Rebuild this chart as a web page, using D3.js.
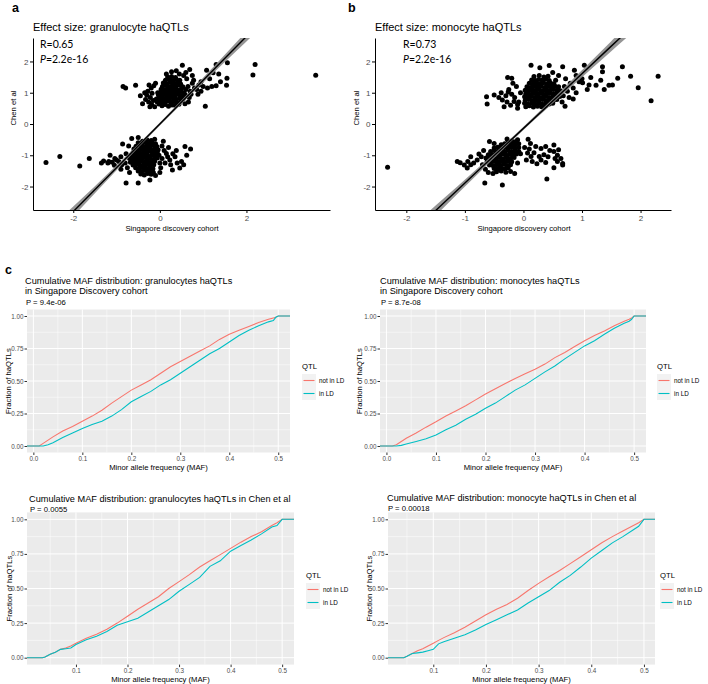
<!DOCTYPE html>
<html lang="en">
<head>
<meta charset="UTF-8">
<title>haQTL effect sizes and MAF distributions</title>
<script src="https://d3js.org/d3.v7.min.js"></script>
<style>
  body { margin: 0; background: #fff; }
  svg { display: block; font-family: "Liberation Sans", Arial, sans-serif; }
</style>
</head>
<body>
<div id="chart"></div>
<script>
// ---------- panel a: granulocyte effect sizes (Singapore x, Chen y) ----------
const granuPoints = [
  // upper cluster core
  [0.05,0.58],[0.12,0.62],[0.2,0.57],[0.28,0.61],[0.36,0.59],[0.44,0.63],[-0.02,0.64],
  [0.02,0.71],[0.09,0.69],[0.17,0.73],[0.25,0.7],[0.33,0.72],[0.41,0.68],[0.49,0.74],[-0.06,0.7],
  [0.0,0.82],[0.07,0.79],[0.14,0.83],[0.22,0.8],[0.3,0.84],[0.38,0.79],[0.46,0.82],[0.54,0.81],[-0.08,0.8],
  [-0.03,0.92],[0.05,0.9],[0.12,0.94],[0.19,0.89],[0.27,0.93],[0.35,0.9],[0.43,0.94],[0.51,0.91],[0.59,0.93],
  [0.01,1.01],[0.09,0.99],[0.16,1.03],[0.24,0.98],[0.32,1.02],[0.4,1.0],[0.48,1.04],[0.56,1.0],[-0.05,1.0],
  [0.03,1.11],[0.11,1.09],[0.18,1.13],[0.26,1.1],[0.34,1.12],[0.42,1.08],[0.5,1.13],[0.6,1.1],
  [0.06,1.2],[0.14,1.23],[0.21,1.19],[0.29,1.22],[0.37,1.2],[0.45,1.24],[0.53,1.19],
  [0.08,1.31],[0.16,1.29],[0.24,1.33],[0.32,1.3],[0.4,1.32],[0.48,1.28],
  [0.13,1.4],[0.22,1.42],[0.3,1.39],[0.38,1.43],[0.46,1.4],
  [0.18,1.5],[0.27,1.52],[0.36,1.49],
  // upper cluster fringe
  [-0.25,1.25],[-0.2,1.15],[-0.28,1.05],[-0.18,0.98],[-0.3,0.92],[-0.22,0.85],[-0.15,0.75],[-0.26,0.7],
  [-0.19,0.62],[-0.12,0.55],[-0.33,0.78],[-0.14,1.22],[-0.1,1.3],[-0.35,1.0],[-0.23,0.55],
  [-0.85,1.2],[-0.79,1.15],[-0.56,1.24],[-0.45,0.9],[-0.4,0.65],
  [0.65,1.2],[0.7,1.05],[0.75,1.3],[0.8,1.15],[0.68,0.85],[0.72,0.95],[0.85,1.1],[0.9,1.25],[0.95,1.05],
  [1.0,1.2],[0.78,1.4],[0.62,1.45],[0.88,0.95],[1.05,0.57],[0.66,0.7],[0.58,0.65],[1.1,1.15],[0.95,1.35],
  [1.2,1.2],[1.3,1.22],
  [0.52,1.88],[0.69,1.74],[0.27,1.67],[0.38,1.7],[0.45,1.6],[0.55,1.55],[0.15,1.6],[0.6,1.65],[0.75,1.55],
  [1.23,1.64],[1.08,1.72],[1.36,1.6],[1.3,1.9],[1.56,1.96],[1.55,1.46],[1.54,1.24],[2.15,1.57],[2.2,1.9],
  [3.6,1.56],[1.4,1.35],[1.15,1.45],
  // lower cluster core
  [-0.3,-0.5],[-0.2,-0.53],[-0.12,-0.49],[-0.4,-0.55],
  [-0.5,-0.6],[-0.42,-0.63],[-0.34,-0.59],[-0.26,-0.62],[-0.18,-0.6],[-0.1,-0.63],
  [-0.55,-0.71],[-0.47,-0.69],[-0.39,-0.73],[-0.31,-0.7],[-0.23,-0.72],[-0.15,-0.69],[-0.07,-0.72],
  [-0.6,-0.8],[-0.52,-0.83],[-0.44,-0.79],[-0.36,-0.82],[-0.28,-0.8],[-0.2,-0.83],[-0.12,-0.79],[-0.04,-0.82],
  [-0.62,-0.92],[-0.54,-0.89],[-0.46,-0.93],[-0.38,-0.9],[-0.3,-0.92],[-0.22,-0.88],[-0.14,-0.91],[-0.06,-0.9],
  [-0.66,-1.0],[-0.58,-1.03],[-0.5,-0.99],[-0.42,-1.02],[-0.34,-1.0],[-0.26,-1.03],[-0.18,-0.99],[-0.1,-1.02],[-0.02,-1.0],
  [-0.7,-1.1],[-0.62,-1.12],[-0.54,-1.09],[-0.46,-1.11],[-0.38,-1.08],[-0.3,-1.12],[-0.22,-1.1],[-0.14,-1.13],[-0.06,-1.09],
  [-0.68,-1.22],[-0.6,-1.19],[-0.52,-1.21],[-0.44,-1.18],[-0.36,-1.22],[-0.28,-1.2],[-0.2,-1.23],[-0.12,-1.19],
  [-0.62,-1.31],[-0.54,-1.29],[-0.46,-1.32],[-0.38,-1.3],[-0.3,-1.28],[-0.22,-1.31],[-0.14,-1.3],
  [-0.56,-1.4],[-0.48,-1.42],[-0.4,-1.39],[-0.32,-1.41],[-0.24,-1.4],[-0.16,-1.43],
  [-0.5,-1.5],[-0.42,-1.52],[-0.34,-1.49],[-0.26,-1.51],[-0.18,-1.5],
  [-0.44,-1.6],[-0.36,-1.63],[-0.28,-1.58],[-0.2,-1.61],
  // lower cluster fringe
  [-0.8,-1.25],[-0.88,-1.3],[-0.95,-1.2],[-1.0,-1.15],[-1.1,-1.22],[-1.18,-1.2],[-1.05,-1.32],[-0.75,-1.4],
  [-0.9,-1.45],[-0.78,-0.95],[-0.86,-0.64],[-0.65,-0.46],[-0.5,-0.43],[-0.72,-0.7],[-0.9,-1.05],[-1.04,-1.1],
  [-1.2,-1.25],[-0.7,-1.55],
  [0.05,-0.7],[0.1,-0.85],[0.15,-0.94],[0.23,-1.15],[0.29,-1.47],[0.46,-1.41],[0.58,-0.72],[0.71,-0.8],
  [0.05,-1.1],[0.12,-1.25],[0.2,-0.75],[0.3,-0.95],[0.35,-1.05],[0.4,-1.25],[0.5,-1.2],[0.25,-1.3],
  [0.02,-1.4],[0.08,-0.55],[0.18,-1.05],[0.38,-0.85],[0.55,-1.3],[0.62,-1.0],[0.0,-1.25],
  [-0.78,-1.89],[-0.5,-1.89],[-0.23,-1.79],[-0.1,-1.65],[-0.15,-1.55],[0.0,-1.55],
  [-2.63,-1.23],[-2.31,-1.04],[-1.85,-1.34],[-1.63,-1.1],[-1.3,-1.18],[-1.15,-1.0],[-1.35,-1.25]
];
const granuFitX  = [-2.93, -2, -1, 0, 1, 2, 3, 3.93];
const granuFitY  = [-4.1, -2.8, -1.4, 0, 1.4, 2.8, 4.2, 5.5];
const granuFitSe = [0.3, 0.16, 0.08, 0.05, 0.08, 0.16, 0.25, 0.32];

// ---------- panel b: monocyte effect sizes ----------
const monoPoints = [
  // upper cluster core
  [0.04,0.55],[0.1,0.58],[0.17,0.54],[0.24,0.57],[0.31,0.55],[0.38,0.58],
  [0.02,0.66],[0.08,0.63],[0.14,0.67],[0.2,0.64],[0.26,0.66],[0.32,0.63],[0.38,0.67],[0.44,0.64],[0.5,0.66],
  [0.03,0.75],[0.09,0.78],[0.15,0.74],[0.21,0.77],[0.27,0.75],[0.33,0.78],[0.39,0.74],[0.45,0.77],[0.51,0.75],[0.57,0.78],
  [0.02,0.87],[0.08,0.85],[0.14,0.88],[0.2,0.85],[0.26,0.87],[0.32,0.84],[0.38,0.88],[0.44,0.85],[0.5,0.87],[0.56,0.86],[0.62,0.88],
  [0.04,0.97],[0.1,0.95],[0.16,0.98],[0.22,0.96],[0.28,0.98],[0.34,0.95],[0.4,0.97],[0.46,0.99],[0.52,0.96],[0.58,0.98],[0.64,0.95],
  [0.03,1.08],[0.09,1.06],[0.15,1.09],[0.21,1.07],[0.27,1.1],[0.33,1.06],[0.39,1.09],[0.45,1.07],[0.51,1.1],[0.57,1.08],[0.63,1.06],
  [0.06,1.19],[0.12,1.17],[0.18,1.2],[0.24,1.18],[0.3,1.21],[0.36,1.17],[0.42,1.2],[0.48,1.18],[0.54,1.21],[0.6,1.19],
  [0.1,1.3],[0.16,1.28],[0.22,1.31],[0.28,1.29],[0.34,1.32],[0.4,1.28],[0.46,1.31],[0.52,1.29],
  [0.14,1.41],[0.2,1.39],[0.26,1.42],[0.32,1.4],[0.38,1.43],[0.44,1.39],
  [0.18,1.52],[0.27,1.55],[0.35,1.5],[0.42,1.53],
  // upper cluster fringe
  [-0.63,0.87],[-0.62,0.64],[-0.5,0.93],[-0.36,0.77],[-0.27,1.49],[-0.2,1.46],[-0.1,0.5],[-0.38,1.0],
  [-0.3,0.9],[-0.25,1.1],[-0.2,0.95],[-0.15,0.85],[-0.12,1.2],[-0.28,0.7],[-0.22,0.6],[-0.08,0.7],
  [-0.05,1.0],[-0.18,1.3],[-0.33,0.55],[-0.1,0.62],[-0.26,1.02],[-0.16,0.72],[-0.42,0.85],
  [0.13,1.88],[0.28,1.8],[0.44,1.87],[0.67,1.83],[0.87,1.72],[1.04,1.88],[1.35,1.83],[1.35,1.67],
  [1.69,1.83],[1.83,1.53],[2.3,1.53],[1.96,1.16],[2.18,0.74],[1.61,1.46],[1.32,1.4],[1.46,1.24],
  [1.52,1.25],[1.24,1.24],[1.38,1.1],[1.09,1.1],[1.01,1.32],[1.15,1.49],[0.71,0.57],[0.7,1.2],
  [0.75,1.05],[0.8,1.3],[0.85,1.15],[0.9,1.0],[0.95,1.35],[0.68,0.9],[0.78,0.85],[0.72,1.45],
  [0.6,1.55],[0.55,1.4],[0.5,1.65],[0.9,1.55],[1.0,1.45],[1.12,1.25],[0.66,0.7],[0.85,0.8],
  // lower cluster core
  [-0.2,-0.54],[-0.14,-0.57],[-0.26,-0.58],
  [-0.38,-0.66],[-0.32,-0.63],[-0.26,-0.67],[-0.2,-0.64],[-0.14,-0.66],[-0.08,-0.63],
  [-0.5,-0.77],[-0.44,-0.74],[-0.38,-0.78],[-0.32,-0.75],[-0.26,-0.77],[-0.2,-0.74],[-0.14,-0.78],[-0.08,-0.75],
  [-0.56,-0.88],[-0.5,-0.85],[-0.44,-0.88],[-0.38,-0.86],[-0.32,-0.89],[-0.26,-0.85],[-0.2,-0.88],[-0.14,-0.86],[-0.08,-0.88],
  [-0.6,-0.98],[-0.54,-1.0],[-0.48,-0.97],[-0.42,-0.99],[-0.36,-0.96],[-0.3,-1.0],[-0.24,-0.97],[-0.18,-0.99],[-0.12,-0.96],
  [-0.64,-1.09],[-0.58,-1.11],[-0.52,-1.08],[-0.46,-1.1],[-0.4,-1.07],[-0.34,-1.11],[-0.28,-1.08],[-0.22,-1.1],[-0.16,-1.07],
  [-0.62,-1.2],[-0.56,-1.22],[-0.5,-1.19],[-0.44,-1.21],[-0.38,-1.18],[-0.32,-1.22],[-0.26,-1.19],[-0.2,-1.21],
  [-0.58,-1.31],[-0.52,-1.33],[-0.46,-1.3],[-0.4,-1.32],[-0.34,-1.29],[-0.28,-1.33],[-0.22,-1.3],
  [-0.5,-1.42],[-0.44,-1.44],[-0.38,-1.41],[-0.32,-1.43],[-0.26,-1.4],
  [-0.46,-1.53],[-0.38,-1.5],[-0.3,-1.54],[-0.22,-1.52],
  // lower cluster fringe
  [-1.13,-1.2],[-1.08,-1.24],[-1.01,-1.31],[-0.96,-1.41],[-0.9,-1.3],[-0.79,-1.15],[-0.76,-0.96],[-0.85,-1.25],
  [-0.7,-1.3],[-0.72,-1.05],[-0.68,-0.85],[-2.32,-1.38],[-0.66,-1.89],[-0.36,-1.95],[-0.58,-0.56],[-0.5,-0.62],
  [-0.65,-1.45],[-0.6,-1.55],[-0.52,-1.58],[-0.15,-1.58],[-0.1,-1.25],[-0.05,-0.95],[-0.1,-0.5],[-0.28,-0.48],
  [-0.95,-1.2],[-0.9,-1.05],
  [0.08,-0.49],[0.12,-0.62],[0.21,-0.72],[0.3,-0.78],[0.38,-0.72],[0.52,-0.67],[0.52,-0.88],[0.58,-1.0],
  [0.64,-1.1],[0.67,-1.26],[0.67,-1.31],[0.52,-1.4],[0.38,-1.23],[0.27,-1.04],[0.23,-1.27],[0.13,-1.04],
  [0.07,-0.93],[0.18,-0.92],[0.35,-0.98],[0.54,-1.1],[0.58,-1.2],[0.4,-1.76],[0.02,-0.75],[0.1,-0.8],
  [0.45,-0.85],[0.3,-1.15],[0.15,-1.2],[0.05,-1.15],[0.42,-1.05],[0.6,-0.82]
];
const monoFitX  = [-2.535, -1.5, -0.75, 0, 0.75, 1.5, 2.52];
const monoFitY  = [-4.58, -2.77, -1.45, -0.14, 1.17, 2.49, 4.27];
const monoFitSe = [0.28, 0.16, 0.09, 0.05, 0.09, 0.16, 0.28];

const scatterYTicks = [-2, -1, 0, 1, 2];

// ---------- panel c: cumulative MAF distributions ----------
const sgMaf = [-0.013, 0.0, 0.012, 0.02, 0.03, 0.04, 0.06, 0.08, 0.10, 0.12, 0.14, 0.16, 0.18, 0.20, 0.22,
  0.24, 0.26, 0.28, 0.30, 0.32, 0.34, 0.36, 0.38, 0.40, 0.42, 0.44, 0.46, 0.48, 0.49, 0.495, 0.50, 0.524];
const granuSgNotLD = [0, 0, 0, 0.02, 0.045, 0.07, 0.115, 0.15, 0.19, 0.23, 0.275, 0.33, 0.38, 0.43, 0.47,
  0.51, 0.56, 0.61, 0.65, 0.69, 0.73, 0.77, 0.82, 0.86, 0.89, 0.92, 0.95, 0.975, 0.985, 0.99, 1, 1];
const granuSgInLD = [0, 0, 0, 0, 0.01, 0.025, 0.065, 0.10, 0.135, 0.165, 0.19, 0.23, 0.28, 0.34, 0.38,
  0.42, 0.47, 0.51, 0.56, 0.61, 0.66, 0.71, 0.75, 0.80, 0.85, 0.89, 0.925, 0.955, 0.965, 0.99, 1, 1];
const monoSgNotLD = [0, 0, 0, 0.01, 0.035, 0.06, 0.10, 0.145, 0.186, 0.23, 0.27, 0.31, 0.355, 0.40, 0.44,
  0.48, 0.52, 0.555, 0.59, 0.63, 0.68, 0.72, 0.765, 0.81, 0.85, 0.885, 0.925, 0.96, 0.975, 0.985, 1, 1];
const monoSgInLD = [0, 0, 0, 0, 0.005, 0.015, 0.035, 0.055, 0.085, 0.125, 0.16, 0.205, 0.245, 0.29, 0.33,
  0.38, 0.43, 0.47, 0.52, 0.57, 0.615, 0.67, 0.72, 0.77, 0.81, 0.86, 0.905, 0.945, 0.96, 0.975, 1, 1];

const granuChenMaf = [0.005, 0.035, 0.04, 0.05, 0.06, 0.07, 0.08, 0.09, 0.10, 0.12, 0.14, 0.16, 0.18, 0.20,
  0.22, 0.24, 0.26, 0.28, 0.30, 0.32, 0.34, 0.36, 0.38, 0.40, 0.42, 0.44, 0.46, 0.48, 0.49, 0.50, 0.523];
const granuChenNotLD = [0, 0, 0.005, 0.025, 0.04, 0.06, 0.07, 0.085, 0.104, 0.14, 0.17, 0.205, 0.25, 0.30,
  0.35, 0.395, 0.44, 0.50, 0.55, 0.60, 0.655, 0.70, 0.745, 0.79, 0.835, 0.875, 0.91, 0.955, 0.975, 1, 1];
const granuChenInLD = [0, 0, 0.005, 0.025, 0.04, 0.06, 0.065, 0.07, 0.095, 0.13, 0.155, 0.19, 0.235, 0.26,
  0.285, 0.33, 0.375, 0.42, 0.48, 0.53, 0.58, 0.66, 0.70, 0.77, 0.81, 0.85, 0.895, 0.945, 0.955, 1, 1];

const monoChenMaf = [0.014, 0.044, 0.05, 0.06, 0.07, 0.08, 0.09, 0.10, 0.11, 0.12, 0.14, 0.16, 0.18, 0.20,
  0.22, 0.24, 0.26, 0.28, 0.30, 0.32, 0.34, 0.36, 0.38, 0.40, 0.42, 0.44, 0.46, 0.48, 0.49, 0.50, 0.521];
const monoChenNotLD = [0, 0, 0.01, 0.03, 0.05, 0.065, 0.085, 0.104, 0.125, 0.145, 0.18, 0.22, 0.265, 0.31,
  0.35, 0.385, 0.43, 0.485, 0.537, 0.585, 0.63, 0.68, 0.73, 0.78, 0.83, 0.875, 0.915, 0.955, 0.975, 1, 1];
const monoChenInLD = [0, 0, 0.01, 0.03, 0.035, 0.04, 0.05, 0.06, 0.10, 0.115, 0.14, 0.165, 0.20, 0.24,
  0.275, 0.31, 0.345, 0.395, 0.44, 0.485, 0.545, 0.595, 0.655, 0.72, 0.775, 0.83, 0.875, 0.925, 0.95, 1, 1];

const fracTicks = [0, 0.25, 0.5, 0.75, 1];
const fracMinor = [0.125, 0.375, 0.625, 0.875];
const mafTicks = [0, 0.1, 0.2, 0.3, 0.4, 0.5];
const mafMinor = [0.05, 0.15, 0.25, 0.35, 0.45];
const qtlGroups = ["not in LD", "in LD"];
const qtlColors = ["#F8766D", "#00BFC4"];

const svg = d3.select("#chart").append("svg")
  .attr("width", 708)
  .attr("height", 684);

function styleAxis(g, size) {
  g.attr("font-family", null).attr("font-size", null);
  g.selectAll(".tick text").attr("fill", "#4D4D4D").style("font-size", size + "px");
}

// scatter panel with fitted line and confidence band
function scatterPanel(cfg) {
  const top = 38, bottom = 210;
  const x = d3.scaleLinear().domain(cfg.xDomain).range([cfg.left, cfg.right]);
  const y = d3.scaleLinear().domain([-2.75, 2.75]).range([bottom, top]);

  svg.append("clipPath").attr("id", cfg.id)
    .append("rect")
    .attr("x", cfg.left).attr("y", top)
    .attr("width", cfg.right - cfg.left).attr("height", bottom - top);
  const plot = svg.append("g").attr("clip-path", `url(#${cfg.id})`);

  plot.selectAll("circle")
    .data(cfg.points)
    .join("circle")
    .attr("cx", d => x(d[0]))
    .attr("cy", d => y(d[1]))
    .attr("r", 2.5)
    .attr("fill", "#000");

  const fit = cfg.fitX.map((v, i) => ({ x: v, y: cfg.fitY[i], se: cfg.fitSe[i] }));
  plot.append("path")
    .datum(fit)
    .attr("d", d3.area().curve(d3.curveMonotoneX)
      .x(d => x(d.x)).y0(d => y(d.y - d.se)).y1(d => y(d.y + d.se)))
    .attr("fill", "#8a8a8a")
    .attr("opacity", 0.9);
  plot.append("path")
    .datum(fit)
    .attr("d", d3.line().x(d => x(d.x)).y(d => y(d.y)))
    .attr("fill", "none")
    .attr("stroke", "#000")
    .attr("stroke-width", 1.4);

  const xa = svg.append("g")
    .attr("transform", `translate(0,${bottom})`)
    .call(d3.axisBottom(x).tickValues(cfg.xTicks).tickSize(3).tickSizeOuter(0).tickFormat(d => String(d)));
  const ya = svg.append("g")
    .attr("transform", `translate(${cfg.left},0)`)
    .call(d3.axisLeft(y).tickValues(scatterYTicks).tickSize(3).tickSizeOuter(0).tickFormat(d => String(d)));
  styleAxis(xa, 8);
  styleAxis(ya, 8);
  xa.selectAll(".tick text").attr("y", 5);
  ya.selectAll(".tick text").attr("x", -4.5);

  svg.append("text")
    .attr("x", cfg.left)
    .attr("y", 31)
    .style("font-size", "11px")
    .text(cfg.title);
  svg.append("text")
    .attr("x", cfg.xTitleX)
    .attr("y", 231)
    .attr("text-anchor", "middle")
    .style("font-size", "7.7px")
    .text("Singapore discovery cohort");
  svg.append("text")
    .attr("transform", `translate(${cfg.yTitleX},108) rotate(-90)`)
    .attr("text-anchor", "middle")
    .style("font-size", "7.7px")
    .text("Chen et al");

  const stat = svg.append("g")
    .style("font-family", "Lato, 'Open Sans', sans-serif")
    .style("font-size", "10.5px");
  stat.append("text").attr("x", cfg.statX).attr("y", 48).text(cfg.r);
  const pLine = stat.append("text").attr("x", cfg.statX).attr("y", 63);
  pLine.append("tspan").style("font-style", "italic").text("P");
  pLine.append("tspan").text("=" + cfg.p);
}

// cumulative distribution panel
function cdfPanel(cfg) {
  const x = d3.scaleLinear().domain(cfg.xDomain).range([cfg.left, cfg.right]);
  const y = d3.scaleLinear().domain([-0.05, 1.05]).range([cfg.bottom, cfg.top]);
  const g = svg.append("g");

  g.append("rect")
    .attr("x", cfg.left).attr("y", cfg.top)
    .attr("width", cfg.right - cfg.left).attr("height", cfg.bottom - cfg.top)
    .attr("fill", "#EBEBEB");

  const minorX = mafMinor.filter(v => v > cfg.xDomain[0] && v < cfg.xDomain[1]);
  const majorX = mafTicks.filter(v => v >= cfg.xDomain[0] && v <= cfg.xDomain[1]);
  g.selectAll(".gy-minor").data(fracMinor).join("line")
    .attr("x1", cfg.left).attr("x2", cfg.right)
    .attr("y1", d => y(d)).attr("y2", d => y(d))
    .attr("stroke", "#fff").attr("stroke-width", 0.5);
  g.selectAll(".gx-minor").data(minorX).join("line")
    .attr("y1", cfg.top).attr("y2", cfg.bottom)
    .attr("x1", d => x(d)).attr("x2", d => x(d))
    .attr("stroke", "#fff").attr("stroke-width", 0.5);
  g.selectAll(".gy-major").data(fracTicks).join("line")
    .attr("x1", cfg.left).attr("x2", cfg.right)
    .attr("y1", d => y(d)).attr("y2", d => y(d))
    .attr("stroke", "#fff").attr("stroke-width", 1);
  g.selectAll(".gx-major").data(majorX).join("line")
    .attr("y1", cfg.top).attr("y2", cfg.bottom)
    .attr("x1", d => x(d)).attr("x2", d => x(d))
    .attr("stroke", "#fff").attr("stroke-width", 1);

  const line = d3.line().x(d => x(d[0])).y(d => y(d[1]));
  [cfg.notLD, cfg.inLD].forEach((series, k) => {
    g.append("path")
      .datum(cfg.maf.map((m, i) => [m, series[i]]))
      .attr("d", line)
      .attr("fill", "none")
      .attr("stroke", qtlColors[k])
      .attr("stroke-width", 1.1);
  });

  const xa = g.append("g")
    .attr("transform", `translate(0,${cfg.bottom})`)
    .call(d3.axisBottom(x).tickValues(majorX).tickSize(2.5).tickSizeOuter(0).tickFormat(d3.format(".1f")));
  const ya = g.append("g")
    .attr("transform", `translate(${cfg.left},0)`)
    .call(d3.axisLeft(y).tickValues(fracTicks).tickSize(2.5).tickSizeOuter(0).tickFormat(d3.format(".2f")));
  [xa, ya].forEach(a => {
    styleAxis(a, 6.3);
    a.select(".domain").remove();
    a.selectAll(".tick line").attr("stroke", "#333");
  });
  xa.selectAll(".tick text").attr("y", 4).attr("dy", "0.75em");
  ya.selectAll(".tick text").attr("x", -3.5);

  cfg.title.forEach((t, i) => {
    g.append("text")
      .attr("x", cfg.titleX)
      .attr("y", cfg.titleY + i * 10.5)
      .style("font-size", "9.2px")
      .text(t);
  });
  g.append("text")
    .attr("x", cfg.titleX + 1)
    .attr("y", cfg.pY)
    .style("font-size", "7.7px")
    .text(cfg.p);

  g.append("text")
    .attr("x", (cfg.left + cfg.right) / 2)
    .attr("y", cfg.bottom + 17)
    .attr("text-anchor", "middle")
    .style("font-size", "7.7px")
    .text("Minor allele frequency (MAF)");
  g.append("text")
    .attr("transform", `translate(${cfg.yTitleX},${(cfg.top + cfg.bottom) / 2}) rotate(-90)`)
    .attr("text-anchor", "middle")
    .style("font-size", "7.7px")
    .text("Fraction of haQTLs");

  const lg = g.append("g").attr("transform", `translate(${cfg.legendX},${cfg.legendY})`);
  lg.append("text").attr("y", 0).style("font-size", "7.7px").text("QTL");
  qtlGroups.forEach((name, k) => {
    const ky = 5 + k * 13;
    lg.append("rect").attr("x", 0).attr("y", ky).attr("width", 14).attr("height", 13).attr("fill", "#F2F2F2");
    lg.append("line").attr("x1", 1.5).attr("x2", 12.5).attr("y1", ky + 6.5).attr("y2", ky + 6.5)
      .attr("stroke", qtlColors[k]).attr("stroke-width", 1.1);
    lg.append("text").attr("x", 17).attr("y", ky + 6.5).attr("dy", "0.35em")
      .style("font-size", "6.3px").text(name);
  });
}

scatterPanel({
  id: "clip-a", left: 33, right: 330, xDomain: [-2.93, 3.93], xTicks: [-2, 0, 2],
  points: granuPoints, fitX: granuFitX, fitY: granuFitY, fitSe: granuFitSe,
  title: "Effect size: granulocyte haQTLs", xTitleX: 172, yTitleX: 16,
  statX: 40, r: "R=0.65", p: "2.2e-16"
});
scatterPanel({
  id: "clip-b", left: 375, right: 671, xDomain: [-2.535, 2.52], xTicks: [-2, -1, 0, 1, 2],
  points: monoPoints, fitX: monoFitX, fitY: monoFitY, fitSe: monoFitSe,
  title: "Effect size: monocyte haQTLs", xTitleX: 524, yTitleX: 359,
  statX: 403, r: "R=0.73", p: "2.2e-16"
});

cdfPanel({
  left: 27, right: 290, top: 309.5, bottom: 452.5, xDomain: [-0.013, 0.524],
  maf: sgMaf, notLD: granuSgNotLD, inLD: granuSgInLD,
  title: ["Cumulative MAF distribution: granulocytes haQTLs", "in Singapore Discovery cohort"],
  titleX: 25, titleY: 283.5, p: "P = 9.4e-06", pY: 305,
  yTitleX: 10.5, legendX: 302, legendY: 369
});
cdfPanel({
  left: 380, right: 646, top: 309.5, bottom: 452.5, xDomain: [-0.013, 0.524],
  maf: sgMaf, notLD: monoSgNotLD, inLD: monoSgInLD,
  title: ["Cumulative MAF distribution: monocytes haQTLs", "in Singapore Discovery cohort"],
  titleX: 380, titleY: 283.5, p: "P = 8.7e-08", pY: 305,
  yTitleX: 361.5, legendX: 657, legendY: 369
});
cdfPanel({
  left: 27, right: 294, top: 512.4, bottom: 664.6, xDomain: [0.005, 0.523],
  maf: granuChenMaf, notLD: granuChenNotLD, inLD: granuChenInLD,
  title: ["Cumulative MAF distribution: granulocytes haQTLs in Chen et al"],
  titleX: 29, titleY: 501.5, p: "P = 0.0055", pY: 511.7,
  yTitleX: 11.5, legendX: 306, legendY: 578
});
cdfPanel({
  left: 388, right: 655, top: 512.4, bottom: 664.6, xDomain: [0.014, 0.521],
  maf: monoChenMaf, notLD: monoChenNotLD, inLD: monoChenInLD,
  title: ["Cumulative MAF distribution: monocyte haQTLs in Chen et al"],
  titleX: 387, titleY: 501, p: "P = 0.00018", pY: 511,
  yTitleX: 372, legendX: 660, legendY: 578
});

// panel letters
[["a", 12, 12], ["b", 348, 12], ["c", 5, 274]].forEach(([t, lx, ly]) => {
  svg.append("text").attr("x", lx).attr("y", ly)
    .style("font-size", "12.5px").style("font-weight", "bold").text(t);
});
</script>
</body>
</html>
